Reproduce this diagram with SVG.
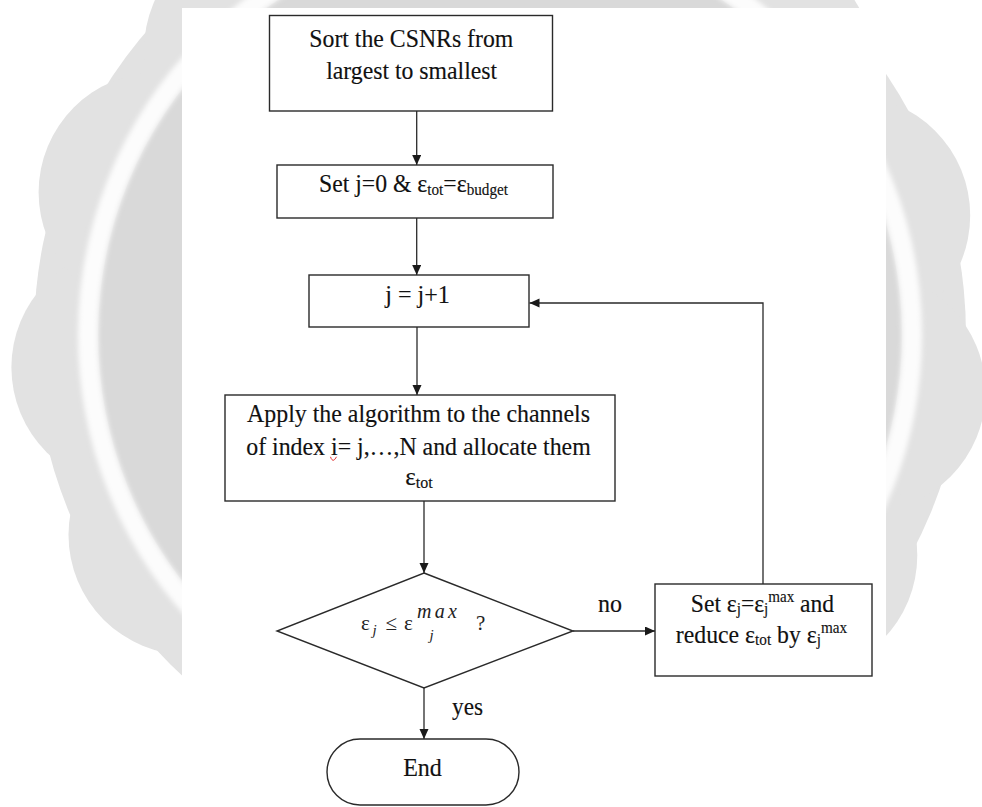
<svg xmlns="http://www.w3.org/2000/svg" width="982" height="807" viewBox="0 0 982 807">
  <defs>
    <style>
      .box{fill:#fff;stroke:#2a2a2a;stroke-width:1.4}
      .t{font-family:"Liberation Serif","Times New Roman",Times,serif;font-size:25px;fill:#111;stroke:#111;stroke-width:0.15}
      .sm{font-size:16px}
      .it{font-style:italic}
      .m{font-family:"Liberation Serif","Times New Roman",Times,serif;fill:#222}
      .edge{fill:none;stroke:#2a2a2a;stroke-width:1.3}
    </style>
    <marker id="arrow" markerUnits="userSpaceOnUse" markerWidth="11" markerHeight="10" refX="10" refY="4.5" orient="auto">
      <path d="M0,0 L10,4.5 L0,9 Z" fill="#1a1a1a"/>
    </marker>
    <filter id="soft" x="-10%" y="-10%" width="120%" height="120%">
      <feGaussianBlur stdDeviation="2.5"/>
    </filter>
  </defs>

  <rect width="982" height="807" fill="#fff"/>

  <!-- faint seal watermark behind the page -->
  <g id="watermark">
    <g fill="#e2e2e2">
      <circle cx="500" cy="335" r="466"/>
      <circle cx="131.4" cy="367.3" r="120"/>
      <circle cx="158.6" cy="192.3" r="120"/>
      <circle cx="264.0" cy="50.1" r="120"/>
      <circle cx="423.6" cy="-27.0" r="120"/>
      <circle cx="600.6" cy="-21.1" r="120"/>
      <circle cx="754.6" cy="66.5" r="120"/>
      <circle cx="850.2" cy="215.5" r="120"/>
      <circle cx="865.6" cy="391.9" r="120"/>
      <circle cx="797.3" cy="555.3" r="120"/>
      <circle cx="660.9" cy="668.2" r="120"/>
      <circle cx="487.6" cy="704.8" r="120"/>
      <circle cx="317.1" cy="656.6" r="120"/>
      <circle cx="188.5" cy="534.8" r="120"/>
    </g>
    <circle cx="500" cy="335" r="402" fill="#d9d9d9"/>
    <circle cx="500" cy="335" r="412" fill="none" stroke="#fcfcfc" stroke-width="20" filter="url(#soft)"/>
  </g>

  <!-- white page carrying the flowchart -->
  <rect x="182" y="8" width="704" height="799" fill="#fff"/>

  <g id="connectors">
    <path class="edge" d="M416.7,111 V165" marker-end="url(#arrow)"/>
    <path class="edge" d="M416.7,218 V275" marker-end="url(#arrow)"/>
    <path class="edge" d="M417,327 V395" marker-end="url(#arrow)"/>
    <path class="edge" d="M424,501 V573" marker-end="url(#arrow)"/>
    <path class="edge" d="M573,631 H655" marker-end="url(#arrow)"/>
    <path class="edge" d="M763,584 V303 H529.5" marker-end="url(#arrow)"/>
    <path class="edge" d="M424,688 V739" marker-end="url(#arrow)"/>
    <text class="t" x="598" y="612" textLength="24" lengthAdjust="spacingAndGlyphs">no</text>
    <text class="t" x="452" y="715" textLength="31" lengthAdjust="spacingAndGlyphs">yes</text>
  </g>

  <g id="n-sort">
    <rect class="box" x="269.5" y="15.5" width="283" height="95.5"/>
    <text class="t" x="411.3" y="46.5" text-anchor="middle" textLength="204" lengthAdjust="spacingAndGlyphs">Sort the CSNRs from</text>
    <text class="t" x="411.7" y="79" text-anchor="middle" textLength="171" lengthAdjust="spacingAndGlyphs">largest to smallest</text>
  </g>

  <g id="n-init">
    <rect class="box" x="277" y="165" width="276" height="53"/>
    <text class="t" x="413.5" y="192" text-anchor="middle" textLength="189" lengthAdjust="spacingAndGlyphs">Set j=0 &amp; ε<tspan class="sm" dy="2.5">tot</tspan><tspan dy="-2.5">=ε</tspan><tspan class="sm" dy="2.5">budget</tspan></text>
  </g>

  <g id="n-incr">
    <rect class="box" x="309" y="275" width="220" height="52"/>
    <text class="t" x="417.5" y="303" text-anchor="middle" textLength="64.6" lengthAdjust="spacingAndGlyphs">j = j+1</text>
  </g>

  <g id="n-apply">
    <rect class="box" x="225" y="395" width="390" height="106"/>
    <text class="t" x="418.5" y="422" text-anchor="middle" textLength="343" lengthAdjust="spacingAndGlyphs">Apply the algorithm to the channels</text>
    <text class="t" x="418.5" y="454.5" text-anchor="middle" textLength="344.5" lengthAdjust="spacingAndGlyphs">of index i= j,…,N and allocate them</text>
    <path d="M330.5,456.8 c0.8,2.6 2,3.8 3.2,3.4 c1,-0.4 1.8,-1.8 2.8,-3.4" fill="none" stroke="#e03030" stroke-width="1"/>
    <text class="t" x="419" y="485" text-anchor="middle">ε<tspan class="sm" dy="2.5">tot</tspan></text>
  </g>

  <g id="n-check">
    <polygon class="box" points="424,573 573,631 424,688 277,631"/>
    <text class="m" x="361" y="630" font-size="21">ε</text>
    <text class="m it" x="372.5" y="635" font-size="15">j</text>
    <text class="m" x="385.5" y="630" font-size="21">≤</text>
    <text class="m" x="404" y="630" font-size="21">ε</text>
    <text class="m it" x="417" y="617.5" font-size="20" textLength="40" lengthAdjust="spacing">max</text>
    <text class="m it" x="429.5" y="640" font-size="15">j</text>
    <text class="m" x="476" y="630" font-size="21">?</text>
  </g>

  <g id="n-update">
    <rect class="box" x="655" y="584" width="217" height="92"/>
    <text class="t" x="762.5" y="611.7" text-anchor="middle" textLength="143.3" lengthAdjust="spacingAndGlyphs">Set ε<tspan class="sm" dy="2.5">j</tspan><tspan dy="-2.5">=ε</tspan><tspan class="sm" dy="2.5">j</tspan><tspan class="sm" dy="-12">max</tspan><tspan dy="9.5"> and</tspan></text>
    <text class="t" x="761.5" y="642.7" text-anchor="middle" textLength="171.3" lengthAdjust="spacingAndGlyphs">reduce ε<tspan class="sm" dy="2.5">tot</tspan><tspan dy="-2.5"> by ε</tspan><tspan class="sm" dy="2.5">j</tspan><tspan class="sm" dy="-12">max</tspan></text>
  </g>

  <g id="n-end">
    <rect class="box" x="327" y="739" width="192" height="66" rx="33" ry="33"/>
    <text class="t" x="422.5" y="776" text-anchor="middle" textLength="38.7" lengthAdjust="spacingAndGlyphs">End</text>
  </g>
</svg>
